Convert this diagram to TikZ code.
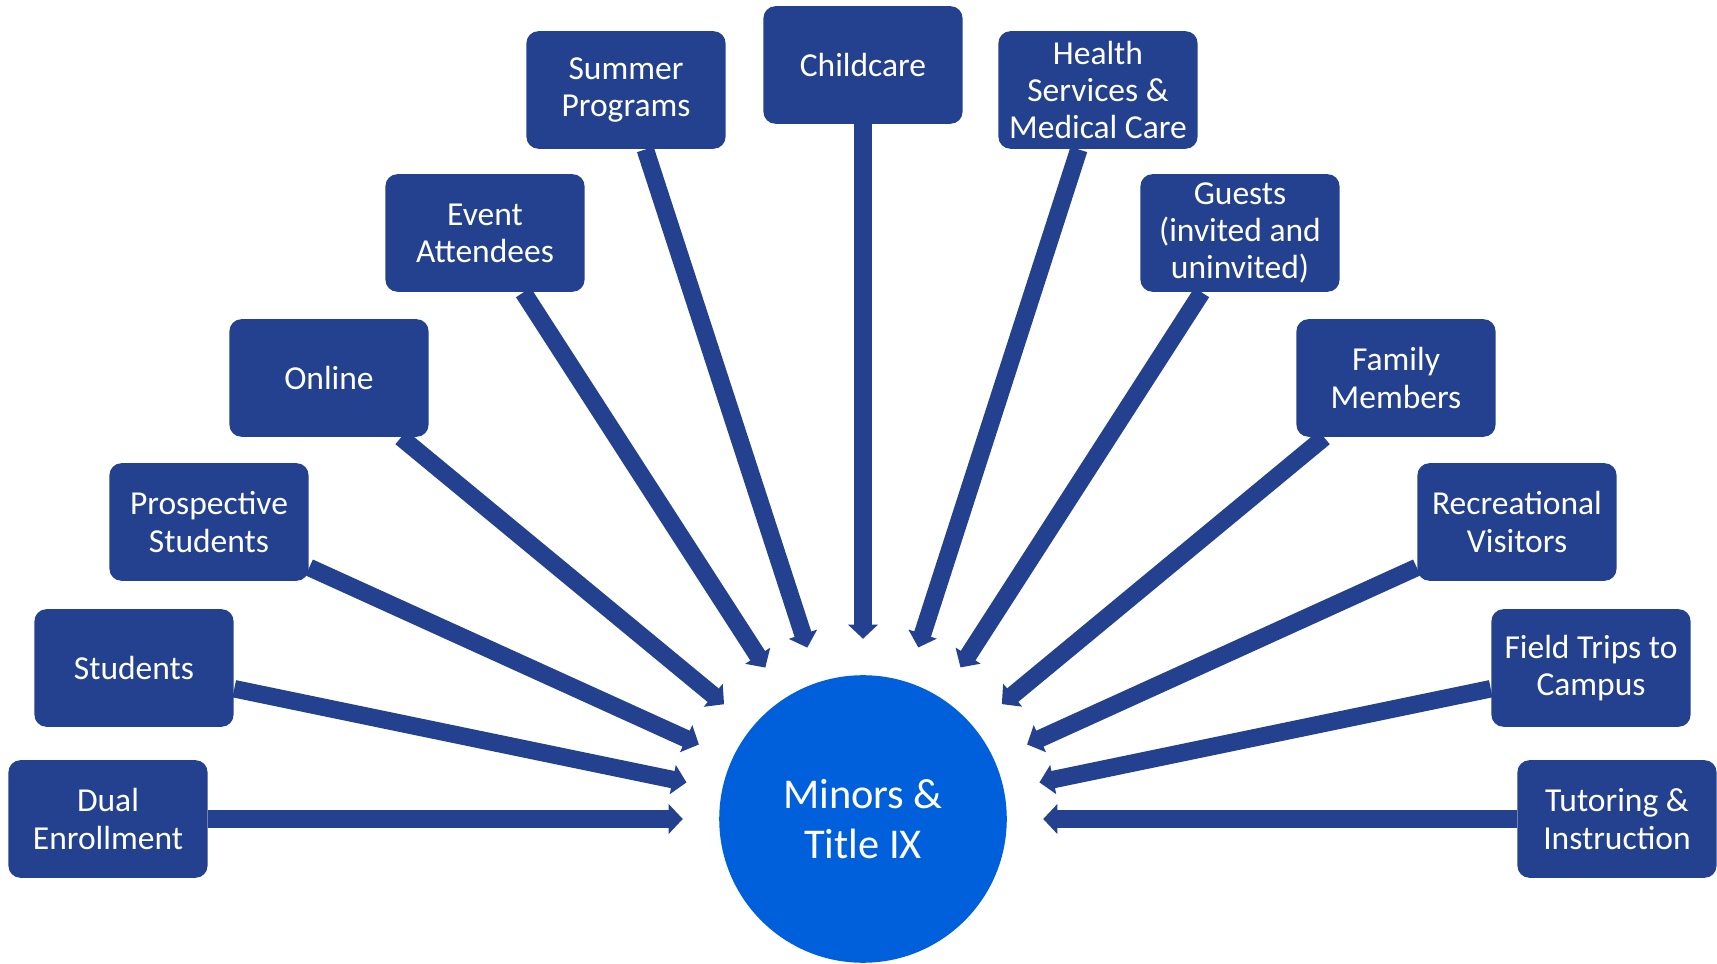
\documentclass[tikz,border=0pt]{standalone}
\usepackage{fontspec}
\setmainfont{Carlito}
\usepackage{xcolor}
\usepackage{tikz}
\usetikzlibrary{arrows.meta}

\definecolor{boxblue}{RGB}{36,65,143}
\definecolor{hubblue}{RGB}{0,95,219}

\tikzset{
  audience/.style={fill=boxblue, text=white, rounded corners=3.4pt, inner sep=0pt,
    minimum width=1.99cm, minimum height=1.175cm, align=center,
    font=\fontsize{9.53}{10.58}\selectfont},
  feed/.style={draw=boxblue, line width=4.98pt, -{Triangle[width=8.25pt,length=4pt]}}
}

\begin{document}
\begin{tikzpicture}[x=0.01cm, y=-0.01cm]
            \useasboundingbox (0,0) rectangle (1717,964);
            % centre
            \node [circle, fill=hubblue, text=white, minimum size=2.874cm, inner sep=0pt, align=center,
                   font=\fontsize{12.06}{14.03}\selectfont] (hub) at (863,819) {Minors \&\\Title IX};
            \node [circle, minimum size=3.588cm, inner sep=0pt] (ring) at (863,819) {};
            % left side
            \node [audience] (dual) at (108,819) {Dual\\Enrollment};
            \node [audience] (students) at (134,668) {Students};
            \node [audience] (prospective) at (209,522) {Prospective\\Students};
            \node [audience] (online) at (329,378) {Online};
            \node [audience] (event) at (485,233) {Event\\Attendees};
            \node [audience] (summer) at (626,90) {Summer\\Programs};
            \node [audience] (childcare) at (863,65) {Childcare};
            % right side
            \node [audience] (health) at (1098,90) {Health\\Services \&\\Medical Care};
            \node [audience] (guests) at (1240,233) {Guests\\(invited and\\uninvited)};
            \node [audience] (family) at (1396,378) {Family\\Members};
            \node [audience] (recreational) at (1517,522) {Recreational\\Visitors};
            \node [audience] (fieldtrips) at (1591,668) {Field Trips to\\Campus};
            \node [audience] (tutoring) at (1617,819) {Tutoring \&\\Instruction};
            % arrows into the centre
            \foreach \n in {dual,students,prospective,online,event,summer,childcare,
                            health,guests,family,recreational,fieldtrips,tutoring}
                \draw [feed] (\n) -- (ring);
        \end{tikzpicture}
\end{document}
